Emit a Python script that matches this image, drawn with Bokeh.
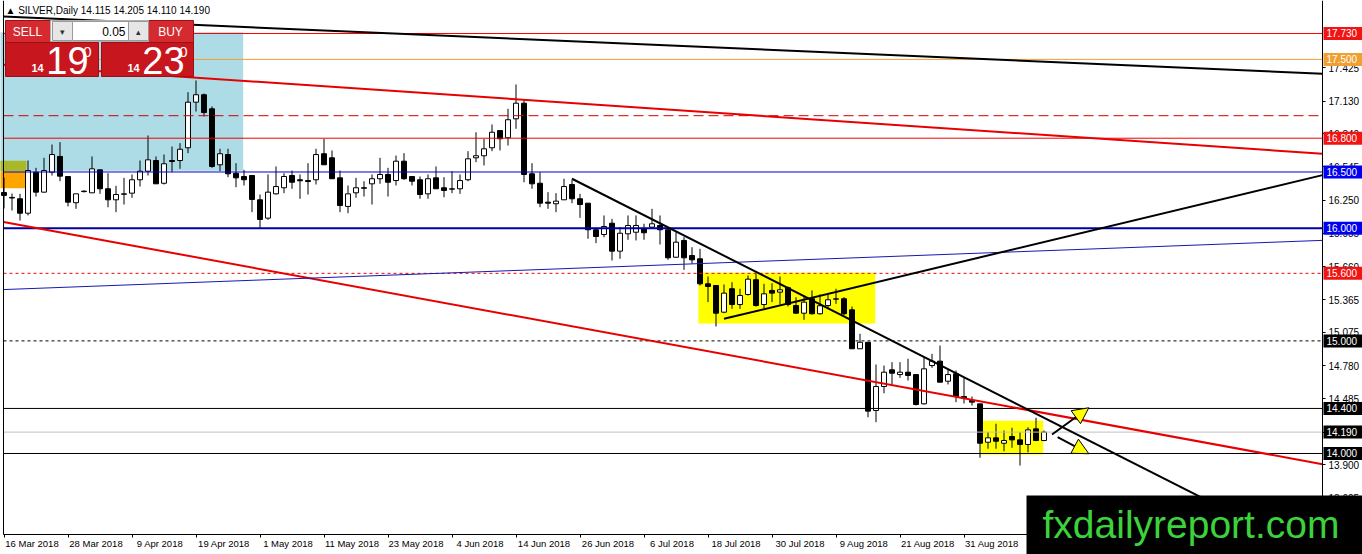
import numpy as np
from bokeh.plotting import figure
from bokeh.models import (FixedTicker, Label, Arrow, NormalHead, Range1d,
                          NumeralTickFormatter, BoxAnnotation)
from bokeh.core.properties import value
from bokeh.embed import file_html
from bokeh.resources import INLINE

# ---------------- data ----------------
symbol = "SILVER,Daily"

open_ = [16.318, 16.274, 16.262, 16.134, 16.498, 16.321, 16.498, 16.638, 16.460, 16.227,
         16.327, 16.315, 16.519, 16.351, 16.253, 16.306, 16.312, 16.431, 16.507, 16.602,
         16.400, 16.602, 16.602, 16.715, 17.120, 17.186, 17.061, 16.564, 16.655, 16.489,
         16.460, 16.469, 16.253, 16.090, 16.306, 16.360, 16.469, 16.431, 16.424, 16.431,
         16.662, 16.626, 16.448, 16.194, 16.315, 16.360, 16.395, 16.440, 16.478, 16.424,
         16.596, 16.460, 16.431, 16.306, 16.448, 16.360, 16.351, 16.351, 16.431, 16.626,
         16.644, 16.715, 16.868, 16.804, 16.972, 17.111, 16.484, 16.400, 16.232, 16.218,
         16.253, 16.389, 16.262, 16.223, 15.987, 15.945, 16.045, 15.797, 15.951, 15.965,
         15.995, 16.010, 16.025, 15.987, 15.743, 15.892, 15.758, 15.729, 15.507, 15.492,
         15.255, 15.463, 15.323, 15.412, 15.543, 15.323, 15.448, 15.433, 15.472, 15.314,
         15.246, 15.374, 15.241, 15.314, 15.374, 15.374, 15.276, 14.930, 14.988, 14.382,
         14.595, 14.743, 14.701, 14.722, 14.701, 14.441, 14.781, 14.820, 14.642, 14.708,
         14.506, 14.471, 14.441, 14.100, 14.139, 14.091, 14.151, 14.121, 14.080, 14.219,
         14.115]
high = [16.451, 16.309, 16.306, 16.602, 16.537, 16.626, 16.744, 16.765, 16.460, 16.306,
        16.336, 16.638, 16.519, 16.489, 16.377, 16.448, 16.478, 16.602, 16.824, 16.638,
        16.655, 16.726, 16.756, 17.209, 17.313, 17.197, 17.082, 16.706, 16.706, 16.578,
        16.519, 16.469, 16.300, 16.478, 16.549, 16.489, 16.513, 16.478, 16.578, 16.706,
        16.795, 16.691, 16.513, 16.380, 16.448, 16.418, 16.478, 16.626, 16.537, 16.646,
        16.667, 16.460, 16.460, 16.478, 16.549, 16.454, 16.507, 16.478, 16.685, 16.853,
        16.795, 16.922, 16.868, 17.061, 17.277, 17.141, 16.578, 16.498, 16.321, 16.312,
        16.440, 16.431, 16.306, 16.223, 16.004, 16.114, 16.084, 16.010, 16.114, 16.114,
        16.040, 16.173, 16.114, 16.010, 15.965, 15.921, 15.832, 15.818, 15.572, 15.492,
        15.501, 15.521, 15.463, 15.581, 15.596, 15.507, 15.512, 15.572, 15.483, 15.388,
        15.403, 15.448, 15.412, 15.412, 15.463, 15.388, 15.305, 15.063, 14.988, 14.790,
        14.781, 14.811, 14.811, 14.841, 14.701, 14.855, 14.885, 14.959, 14.743, 14.737,
        14.675, 14.506, 14.441, 14.189, 14.264, 14.204, 14.228, 14.189, 14.233, 14.317,
        14.205]
low = [16.176, 16.158, 16.069, 16.114, 16.282, 16.315, 16.469, 16.418, 16.194, 16.173,
       16.318, 16.315, 16.306, 16.187, 16.143, 16.211, 16.271, 16.371, 16.469, 16.395,
       16.389, 16.498, 16.528, 16.667, 17.037, 16.993, 16.537, 16.507, 16.454, 16.365,
       16.380, 16.143, 15.995, 16.075, 16.300, 16.312, 16.351, 16.262, 16.300, 16.389,
       16.564, 16.440, 16.143, 16.134, 16.271, 16.282, 16.211, 16.395, 16.282, 16.380,
       16.431, 16.380, 16.262, 16.262, 16.351, 16.276, 16.312, 16.306, 16.418, 16.587,
       16.558, 16.685, 16.691, 16.735, 16.884, 16.409, 16.351, 16.187, 16.173, 16.143,
       16.253, 16.223, 16.093, 15.907, 15.868, 15.921, 15.714, 15.729, 15.898, 15.892,
       15.898, 15.995, 15.856, 15.720, 15.738, 15.631, 15.685, 15.492, 15.344, 15.128,
       15.246, 15.285, 15.285, 15.403, 15.305, 15.285, 15.344, 15.323, 15.305, 15.241,
       15.187, 15.234, 15.234, 15.285, 15.329, 15.226, 14.930, 14.930, 14.322, 14.278,
       14.535, 14.613, 14.672, 14.648, 14.426, 14.435, 14.761, 14.633, 14.613, 14.456,
       14.444, 14.426, 13.962, 14.042, 14.042, 14.020, 14.051, 13.893, 14.011, 14.115,
       14.110]
close = [16.292, 16.269, 16.134, 16.513, 16.321, 16.513, 16.655, 16.463, 16.232, 16.306,
         16.330, 16.528, 16.351, 16.253, 16.300, 16.306, 16.431, 16.507, 16.608, 16.395,
         16.573, 16.593, 16.702, 17.120, 17.186, 17.028, 16.549, 16.662, 16.484, 16.448,
         16.431, 16.256, 16.078, 16.321, 16.371, 16.460, 16.409, 16.422, 16.415, 16.655,
         16.564, 16.440, 16.202, 16.306, 16.360, 16.356, 16.440, 16.478, 16.409, 16.596,
         16.440, 16.418, 16.300, 16.440, 16.351, 16.336, 16.351, 16.424, 16.617, 16.644,
         16.706, 16.853, 16.795, 16.964, 17.111, 16.478, 16.395, 16.223, 16.223, 16.241,
         16.371, 16.262, 16.211, 15.987, 15.927, 16.016, 15.797, 15.956, 16.025, 16.025,
         15.960, 16.040, 15.987, 15.738, 15.877, 15.738, 15.720, 15.507, 15.483, 15.246,
         15.424, 15.323, 15.403, 15.548, 15.314, 15.418, 15.424, 15.454, 15.323, 15.246,
         15.344, 15.241, 15.312, 15.365, 15.374, 15.241, 14.930, 14.988, 14.376, 14.595,
         14.722, 14.713, 14.722, 14.693, 14.435, 14.752, 14.820, 14.633, 14.701, 14.506,
         14.488, 14.456, 14.091, 14.139, 14.109, 14.115, 14.121, 14.080, 14.210, 14.115,
         14.190]

tick_bars = [0, 8, 16, 24, 32, 40, 48, 56, 64, 72, 80, 88, 96, 104, 112, 120]
tick_labels = ["16 Mar 2018", "28 Mar 2018", "9 Apr 2018", "19 Apr 2018", "1 May 2018",
               "11 May 2018", "23 May 2018", "4 Jun 2018", "14 Jun 2018", "26 Jun 2018",
               "6 Jul 2018", "18 Jul 2018", "30 Jul 2018", "9 Aug 2018", "21 Aug 2018",
               "31 Aug 2018"]
price_ticks = [17.425, 17.130, 16.840, 16.545, 16.250, 15.955, 15.660, 15.365,
               15.075, 14.780, 14.485, 14.190, 13.900, 13.605]

# horizontal levels
level_price = [17.730, 17.500, 17.000, 16.800, 16.500, 16.000, 15.600, 15.000, 14.400, 14.190, 14.000]
level_color = ["#FF0000", "#F0A030", "#D00000", "#F00000", "#0000C8", "#0000A0",
               "#F00000", "#000000", "#000000", "#C0C0C0", "#000000"]
level_width = [1, 1, 1, 1, 1, 2, 1, 1, 1, 1, 1]
level_dash = ["solid", "solid", "10 5", "solid", "solid", "solid", "3 3", "3 3", "solid", "solid", "solid"]
label_color = ["#F01414", "#F0A030", None, "#F01414", "#0000F0", "#0000F0",
               "#F01414", "#000000", "#000000", "#000000", "#000000"]

# trend lines: anchor bars / prices
trend_bar0 = [0, 0, 0, 0, 71, 90]
trend_p0 = [17.880, 17.453, 16.056, 15.456, 16.440, 15.196]
trend_bar1 = [160, 160, 160, 160, 150, 160]
trend_p1 = [17.388, 16.685, 13.968, 15.880, 13.598, 16.390]
trend_color = ["#000000", "#E80000", "#E80000", "#1818B0", "#000000", "#000000"]
trend_width = [2, 2, 2, 1, 2, 2]
trend_from_left = [True, True, True, True, False, False]

# rectangles (zones)
zone_bar0 = [-1.0, -1.0, -1.0, 86.8, 122.1]
zone_bar1 = [29.9, 2.8, 2.8, 108.9, 129.9]
zone_low = [16.51, 16.505, 16.355, 15.155, 13.99]
zone_high = [17.74, 16.60, 16.505, 15.605, 14.29]
zone_color = ["#ADDCE6", "#A8B828", "#FFA500", "#FFFF00", "#FFFF00"]

# projection arrows
arrow_bar0 = [131.0, 131.7]
arrow_p0 = [14.169, 14.145]
arrow_bar1 = [135.6, 135.6]
arrow_p1 = [14.406, 13.998]

lot_size = "0.05"
spread = 0.040
site = "fxdailyreport.com"

# ---------------- layout helpers (reference pixel -> data) ----------------
PXB = 8.0
PPX = 0.008881
def X(px):
    return (px - 3.5) / PXB
def Y(py):
    return 18.023 - PPX * py

FONT = "Liberation Sans"
W, H = 1362, 554
CHART_L, CHART_R = X(3), X(1322)
CHART_T, CHART_B = Y(0), Y(534)

p = figure(width=W, height=H, output_backend="svg", toolbar_location=None,
           x_range=Range1d(X(0), X(W)), y_range=Range1d(Y(H), Y(0)),
           y_axis_location="right", min_border=0, min_border_left=0, min_border_top=0,
           min_border_right=0, min_border_bottom=0)
p.background_fill_color = "white"
p.border_fill_color = "white"
p.outline_line_color = None
p.xgrid.visible = False
p.ygrid.visible = False

# zones
p.quad(left=zone_bar0, right=zone_bar1, bottom=zone_low, top=zone_high,
       fill_color=zone_color, line_color=None)

# candles
o = np.array(open_); h = np.array(high); l = np.array(low); c = np.array(close)
idx = np.arange(len(o))
top = np.maximum(o, c)
bot = np.minimum(o, c)
bot = np.where(top - bot < 0.004, top - 0.004, bot)
bull = c >= o
p.segment(x0=idx, y0=l, x1=idx, y1=h, line_color="black", line_width=1)
p.vbar(x=idx[bull], top=top[bull], bottom=bot[bull], width=0.62,
       fill_color="white", line_color="black", line_width=1)
p.vbar(x=idx[~bull], top=top[~bull], bottom=bot[~bull], width=0.62,
       fill_color="black", line_color="black", line_width=1)

# horizontal levels (across the chart area)
for lp, lc, lw, ld in zip(level_price, level_color, level_width, level_dash):
    p.segment(x0=[CHART_L], y0=[lp], x1=[CHART_R], y1=[lp], line_color=lc,
              line_width=lw, line_dash=ld)

# trend lines (extended as rays to the chart's right edge)
tb0 = np.array(trend_bar0, float); tp0 = np.array(trend_p0)
tb1 = np.array(trend_bar1, float); tp1 = np.array(trend_p1)
slope = (tp1 - tp0) / (tb1 - tb0)
xs0 = np.where(trend_from_left, CHART_L, tb0)
ys0 = tp0 + slope * (xs0 - tb0)
xs1 = np.full(len(tb0), CHART_R)
ys1 = tp0 + slope * (xs1 - tb0)
p.segment(x0=xs0, y0=ys0, x1=xs1, y1=ys1, line_color=trend_color, line_width=trend_width)

# chart frame (left border)
p.segment(x0=[CHART_L], y0=[CHART_B], x1=[CHART_L], y1=[CHART_T], line_color="black", line_width=1)

# arrows
for xa, ya, xb, yb in zip(arrow_bar0, arrow_p0, arrow_bar1, arrow_p1):
    p.add_layout(Arrow(end=NormalHead(size=16, fill_color="#FFFF00", line_color="black", line_width=1),
                       x_start=xa, y_start=ya, x_end=xb, y_end=yb,
                       line_color="black", line_width=2))

# ---------------- trade panel ----------------
bid = close[-1]
ask = bid + spread
def parts(v):
    s = f"{v:.3f}"
    return s[:2], s[3:5], s[5]

panel_boxes = [
    (5, 50, 20, 42, "#D42A30", "#9A1014"),
    (148, 193, 20, 42, "#D42A30", "#9A1014"),
    (50, 148, 20, 41, "#F4F4F4", "#B0B0B0"),
    (52, 72, 21, 40, "#E6E6E6", "#9A9A9A"),
    (72, 128, 21, 40, "#FFFFFF", "#9A9A9A"),
    (128, 148, 21, 40, "#E6E6E6", "#9A9A9A"),
    (5, 98, 42, 76, "#C8161E", "#9A1014"),
    (101, 193, 42, 76, "#C8161E", "#9A1014"),
]
for x0, x1, y0, y1, fc, lc in panel_boxes:
    p.quad(left=[X(x0)], right=[X(x1)], top=[Y(y0)], bottom=[Y(y1)],
           fill_color=fc, line_color=lc, line_width=1)

def ptext(t, px, py, size, color, align="center", style="normal"):
    p.text(x=[X(px)], y=[Y(py)], text=[t], text_font=value(FONT), text_font_size=f"{size}px",
           text_color=color, text_align=align, text_baseline="middle", text_font_style=style)

ptext("SELL", 27, 31, 12, "white")
ptext("BUY", 170, 31, 12, "white")
ptext(lot_size, 125, 31, 12, "black", align="right")
ptext("▾", 62, 31, 9, "#333333")
ptext("▴", 138, 31, 9, "#333333")
for v, cx in ((bid, 0), (ask, 96)):
    a, b, d = parts(v)
    ptext(a, 37 + cx, 67, 11, "white", style="bold")
    ptext(b, 67 + cx, 60, 38, "white")
    ptext(d, 87 + cx, 51, 15, "white")

# ---------------- axes (placed at the chart edges) ----------------
shift = 3.5
p.xaxis.fixed_location = CHART_B
p.xaxis.bounds = (CHART_L, CHART_R)
p.xaxis.ticker = FixedTicker(ticks=[b + shift for b in tick_bars], minor_ticks=tick_bars)
p.xaxis.major_label_overrides = {b + shift: t for b, t in zip(tick_bars, tick_labels)}
p.xaxis.major_tick_out = 0
p.xaxis.major_tick_in = 0
p.xaxis.minor_tick_out = 3
p.xaxis.minor_tick_in = 0
p.xaxis.minor_tick_line_color = "black"
p.xaxis.axis_line_color = "black"
p.xaxis.major_label_standoff = 0
p.xaxis.major_label_text_font = FONT
p.xaxis.major_label_text_font_size = "9.5px"
p.xaxis.major_label_text_color = "black"

p.yaxis.fixed_location = CHART_R
p.yaxis.bounds = (CHART_B, CHART_T)
p.yaxis.ticker = FixedTicker(ticks=price_ticks, minor_ticks=[])
p.yaxis.formatter = NumeralTickFormatter(format="0.000")
p.yaxis.major_tick_out = 3
p.yaxis.major_tick_in = 0
p.yaxis.axis_line_color = "black"
p.yaxis.major_label_standoff = 3
p.yaxis.major_label_text_font = FONT
p.yaxis.major_label_text_font_size = "10px"
p.yaxis.major_label_text_color = "black"

# price boxes on the axis
half = 6.5 * PPX
for lp, bc in zip(level_price, label_color):
    if bc is None:
        continue
    p.add_layout(BoxAnnotation(left=X(1323), right=X(W + 5), bottom=lp - half, top=lp + half,
                               fill_color=bc, fill_alpha=1.0, line_color=None))
    p.add_layout(Label(x=X(1326), y=lp, text=f"{lp:.3f}", text_align="left",
                       text_baseline="middle", text_color="white", text_font=FONT,
                       text_font_size="10px"))

# title
p.add_layout(Label(x=X(5), y=Y(10), text=f"▲ {symbol}  {open_[-1]:.3f} {high[-1]:.3f} {low[-1]:.3f} {close[-1]:.3f}",
                   text_align="left", text_baseline="middle", text_color="black",
                   text_font=FONT, text_font_size="10px"))

# logo
p.add_layout(BoxAnnotation(left=X(1026), right=X(W + 5), top=Y(495), bottom=Y(H + 5),
                           fill_color="black", fill_alpha=1.0, line_color=None))
p.add_layout(Label(x=X(1042), y=Y(524), text=site, text_align="left", text_baseline="alphabetic",
                   text_color="#3CD23C", text_font=FONT, text_font_size="39px"))

open("out.html", "w").write(file_html(p, INLINE))
